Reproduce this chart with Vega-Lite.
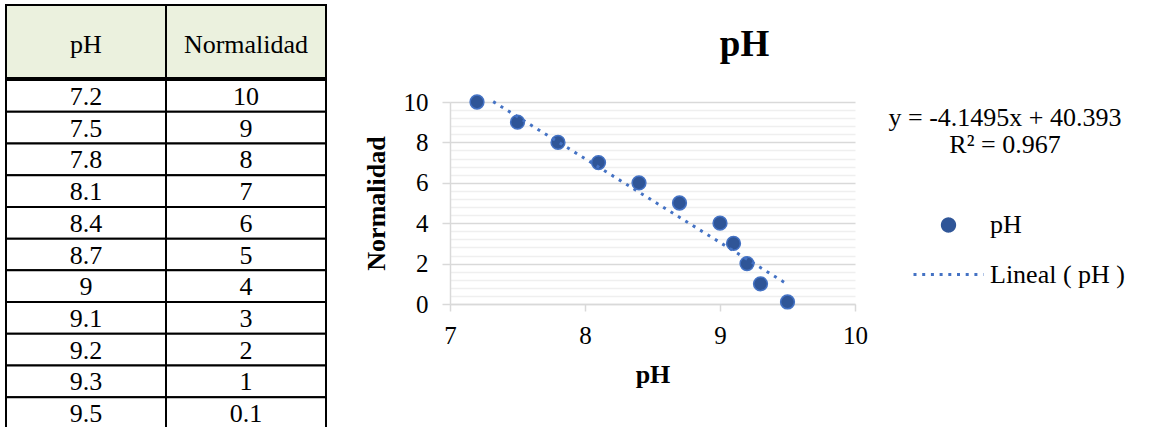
{
  "$schema": "https://vega.github.io/schema/vega-lite/v6.json",
  "background": "white",
  "padding": {"left": 5, "top": 4, "right": 0, "bottom": 0},
  "config": {"view": {"stroke": null}, "font": "Liberation Serif"},
  "datasets": {
    "tabla": [
      {"pH": 7.2, "Normalidad": 10},
      {"pH": 7.5, "Normalidad": 9},
      {"pH": 7.8, "Normalidad": 8},
      {"pH": 8.1, "Normalidad": 7},
      {"pH": 8.4, "Normalidad": 6},
      {"pH": 8.7, "Normalidad": 5},
      {"pH": 9, "Normalidad": 4},
      {"pH": 9.1, "Normalidad": 3},
      {"pH": 9.2, "Normalidad": 2},
      {"pH": 9.3, "Normalidad": 1},
      {"pH": 9.5, "Normalidad": 0.1}
    ]
  },
  "spacing": 36,
  "hconcat": [
    {
      "spacing": 0,
      "vconcat": [
        {
          "width": 320,
          "height": 73,
          "data": {"name": "tabla"},
          "transform": [
            {"fold": ["pH", "Normalidad"], "as": ["columna", "valor"]},
            {"aggregate": [{"op": "count", "as": "n"}], "groupby": ["columna"]}
          ],
          "encoding": {
            "x": {"field": "columna", "type": "nominal", "scale": {"domain": ["pH", "Normalidad"], "paddingInner": 0, "paddingOuter": 0}, "axis": null}
          },
          "layer": [
            {"mark": {"type": "rect", "fill": "#EBF1DE", "stroke": "#000000", "strokeWidth": 2}},
            {"mark": {"type": "text", "font": "Liberation Serif", "fontSize": 26, "color": "#000000", "dy": 3},
             "encoding": {"text": {"field": "columna", "type": "nominal"}}}
          ]
        },
        {
          "width": 320,
          "height": 349,
          "data": {"name": "tabla"},
          "transform": [{"fold": ["pH", "Normalidad"], "as": ["columna", "valor"]}],
          "encoding": {
            "x": {"field": "columna", "type": "nominal", "scale": {"domain": ["pH", "Normalidad"], "paddingInner": 0, "paddingOuter": 0}, "axis": null},
            "y": {"field": "pH", "type": "ordinal", "scale": {"paddingInner": 0, "paddingOuter": 0}, "axis": null}
          },
          "layer": [
            {"mark": {"type": "rect", "fill": "#FFFFFF", "stroke": "#000000", "strokeWidth": 2}},
            {"mark": {"type": "text", "font": "Liberation Serif", "fontSize": 26, "color": "#000000", "dy": 1},
             "encoding": {"text": {"field": "valor", "type": "nominal"}}}
          ]
        }
      ]
    },
    {
      "width": 405,
      "height": 423,
      "title": {"text": "pH", "font": "Liberation Serif", "fontSize": 37, "fontWeight": "bold", "color": "#000000", "anchor": "middle", "baseline": "alphabetic", "offset": -88, "dx": 92},
      "data": {"name": "tabla"},
      "resolve": {"axis": {"y": "independent"}},
      "encoding": {
        "x": {
          "field": "pH", "type": "quantitative",
          "scale": {"domain": [7, 10], "nice": false, "zero": false},
          "axis": {
            "values": [7, 8, 9, 10], "grid": false, "title": "pH", "offset": -124,
            "titleFont": "Liberation Serif", "titleFontSize": 26, "titleFontWeight": "bold", "titleColor": "#000000", "titlePadding": 13,
            "labelFont": "Liberation Serif", "labelFontSize": 25, "labelColor": "#000000", "labelPadding": 12, "labelFlush": false,
            "domainColor": "#D9D9D9", "domainWidth": 1.5, "tickColor": "#D9D9D9", "tickWidth": 1.5, "tickSize": 7
          }
        }
      },
      "layer": [
        {
          "mark": {"type": "point", "filled": true, "opacity": 1, "stroke": "#4472C4", "strokeWidth": 1.5},
          "encoding": {
            "y": {
              "field": "Normalidad", "type": "quantitative",
              "scale": {"domain": [0, 10], "nice": false, "zero": false, "range": [299, 97]},
              "axis": {
                "values": [0, 2, 4, 6, 8, 10],
                "grid": true, "gridColor": "#D9D9D9", "gridWidth": 1.5,
                "tickColor": "#D9D9D9", "tickWidth": 1.5, "tickSize": 8,
                "domainColor": "#D9D9D9", "domainWidth": 1.5,
                "title": "Normalidad",
                "titleFont": "Liberation Serif", "titleFontSize": 26, "titleFontWeight": "bold", "titleColor": "#000000", "titlePadding": 14,
                "labelFont": "Liberation Serif", "labelFontSize": 25, "labelColor": "#000000", "labelPadding": 14
              }
            },
            "shape": {"datum": "pH", "scale": {"domain": ["pH", "Lineal ( pH )"], "range": ["circle", "stroke"]}},
            "size": {"datum": "pH", "scale": {"type": "ordinal", "domain": ["pH", "Lineal ( pH )"], "range": [190, 4900]}},
            "color": {
              "datum": "pH",
              "scale": {"domain": ["pH", "Lineal ( pH )"], "range": ["#2F5597", "#4472C4"]},
              "legend": {
                "orient": "none", "legendX": 879, "legendY": 100, "padding": 0,
                "title": ["y = -4.1495x + 40.393", "R² = 0.967"],
                "titleFont": "Liberation Serif", "titleFontSize": 26, "titleFontWeight": "normal", "titleColor": "#000000",
                "titleAnchor": "middle", "titleAlign": "center", "titleLineHeight": 27, "titlePadding": 54, "titleLimit": 600,
                "labelFont": "Liberation Serif", "labelFontSize": 26, "labelColor": "#000000", "labelOffset": 5, "labelLimit": 400,
                "symbolStrokeColor": "#4472C4", "symbolOffset": 27, "rowPadding": -17
              }
            }
          }
        },
        {
          "mark": {"type": "line", "clip": true},
          "transform": [{"regression": "Normalidad", "on": "pH", "extent": [7.32, 9.5]}],
          "encoding": {
            "y": {
              "field": "Normalidad", "type": "quantitative",
              "scale": {"domain": [0, 10], "nice": false, "zero": false, "range": [299, 97]},
              "axis": {
                "orient": "right",
                "values": [0.4, 0.8, 1.2, 1.6, 2.4, 2.8, 3.2, 3.6, 4.4, 4.8, 5.2, 5.6, 6.4, 6.8, 7.2, 7.6, 8.4, 8.8, 9.2, 9.6],
                "grid": true, "gridColor": "#EFEFEF", "gridWidth": 1.5,
                "labels": false, "ticks": false, "domain": false, "title": null,
                "minExtent": 0, "maxExtent": 0
              }
            },
            "color": {"datum": "Lineal ( pH )"},
            "strokeDash": {"datum": "Lineal ( pH )", "scale": {"domain": ["pH", "Lineal ( pH )"], "range": [[1, 0], [3, 5.7]]}},
            "strokeWidth": {"datum": "Lineal ( pH )", "scale": {"type": "ordinal", "domain": ["pH", "Lineal ( pH )"], "range": [1.5, 3]}}
          }
        }
      ]
    }
  ]
}
